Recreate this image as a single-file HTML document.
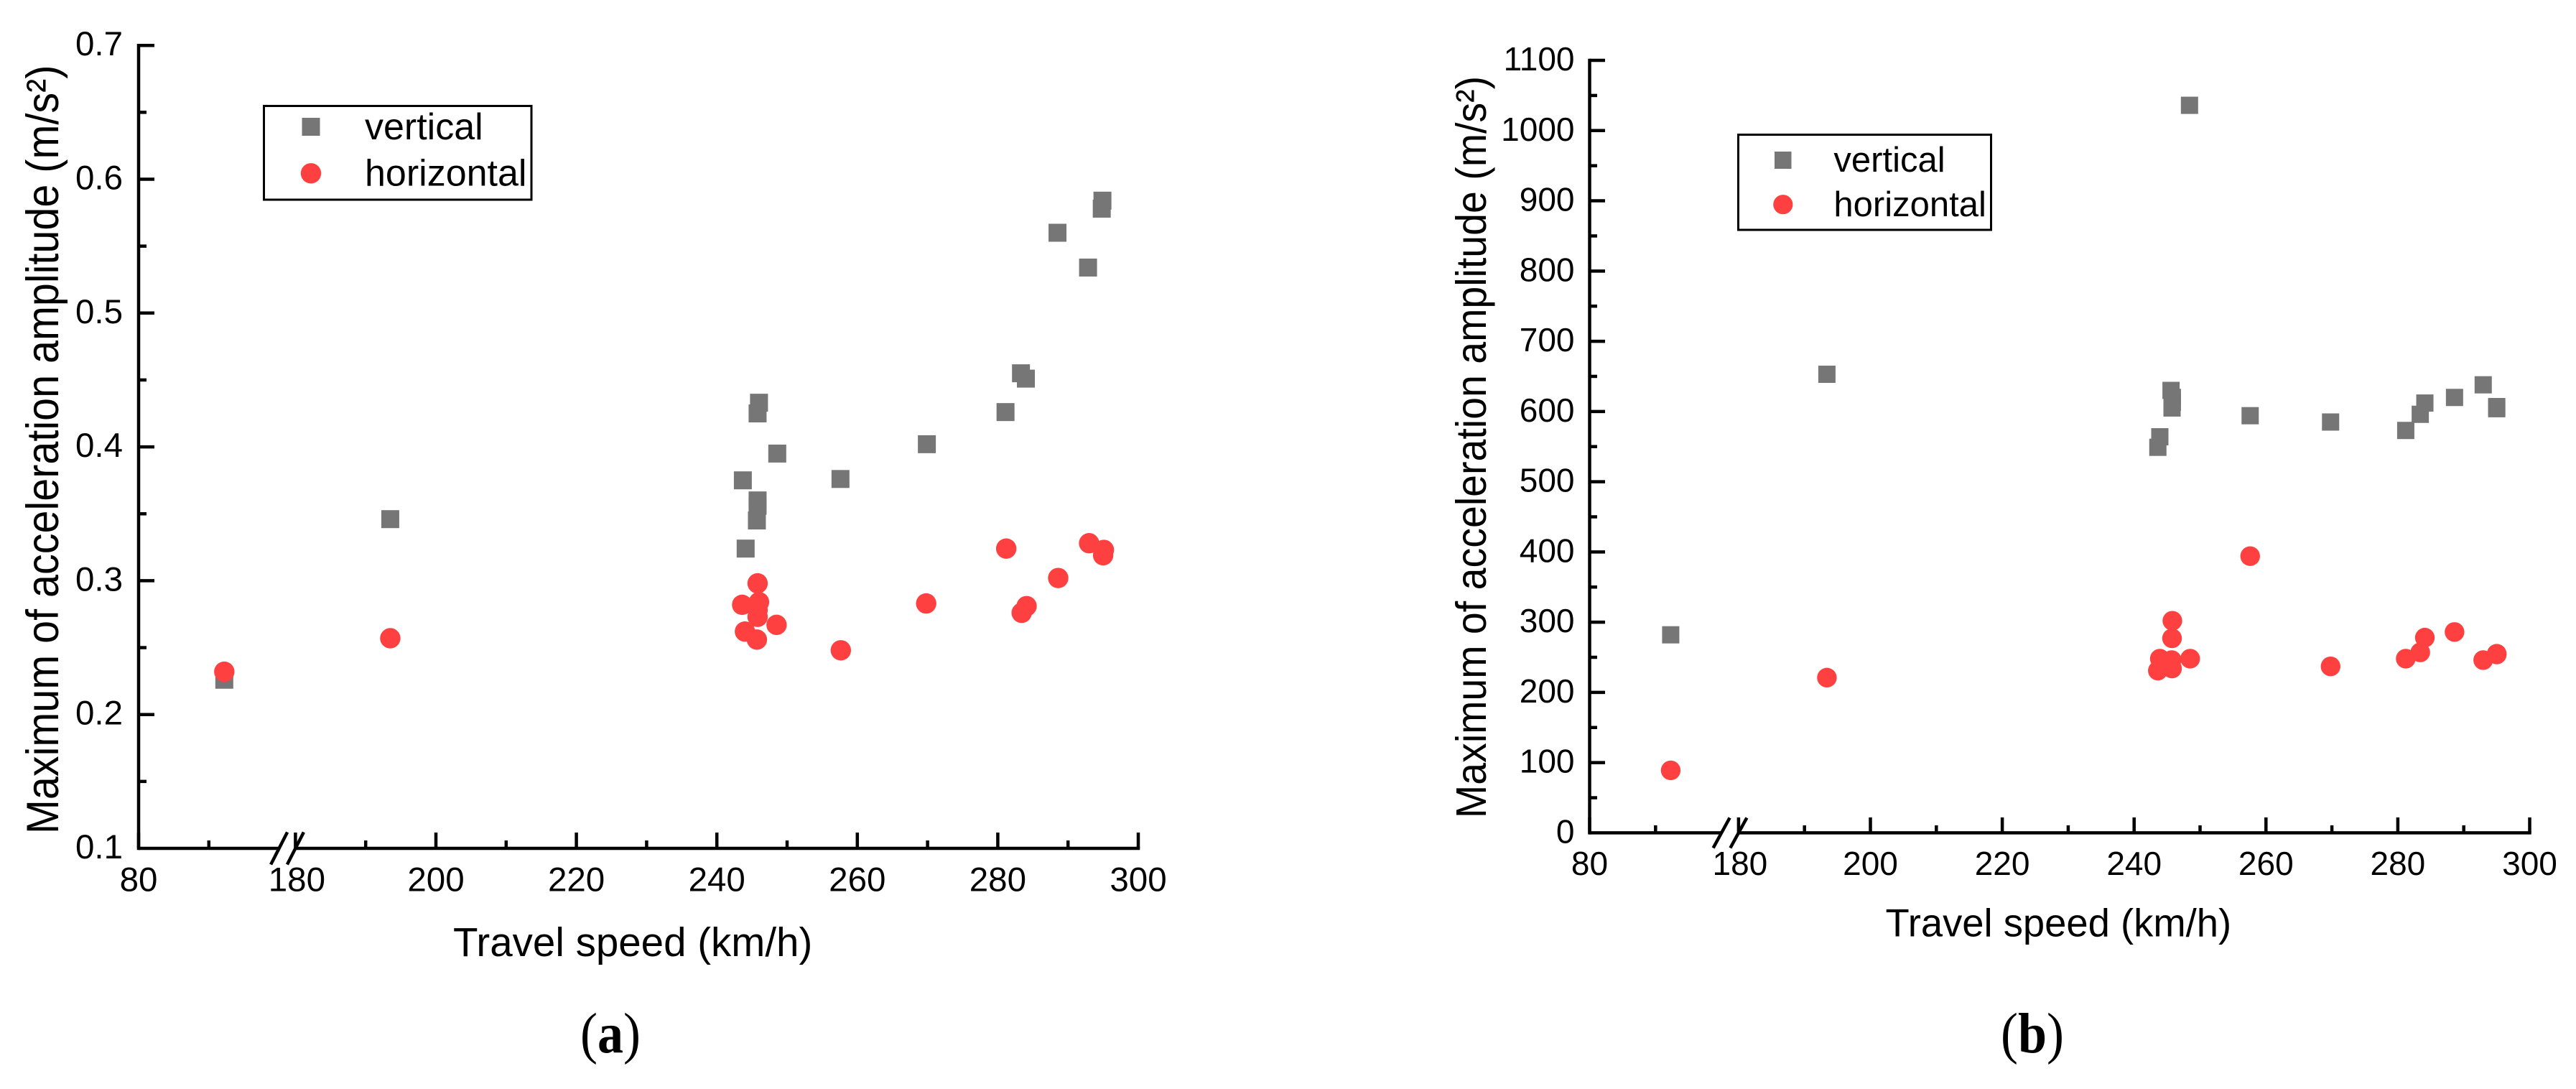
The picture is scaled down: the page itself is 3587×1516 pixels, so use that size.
<!DOCTYPE html>
<html lang="en">
<head>
<meta charset="utf-8">
<title>Maximum of acceleration amplitude versus travel speed</title>
<style>
  html, body { margin: 0; padding: 0; background: #fff; width: 3587px; height: 1516px; overflow: hidden; }
  svg { display: block; position: absolute; left: 0; top: 0; }
  text { font-family: "Liberation Sans", Arial, sans-serif; fill: #000; }
  .caption { font-family: "Liberation Serif", "Times New Roman", serif; }
</style>
</head>
<body>
<svg id="figure" xmlns="http://www.w3.org/2000/svg" width="3587" height="1516" viewBox="0 0 3587 1516">
  <rect x="0" y="0" width="3587" height="1516" fill="#ffffff"/>

  <g id="panel-a">
    <text transform="translate(81,1161) rotate(-90) scale(1,1.1)" font-size="57.5">Maximum of acceleration amplitude (m/s²)</text>
    <text x="631" y="1331" font-size="56.5">Travel speed (km/h)</text>
    <g>
      <rect x="367.5" y="147.5" width="372.5" height="130.5" fill="#fff" stroke="#000" stroke-width="3"/>
      <rect x="420.5" y="164" width="25" height="25" fill="#767676"/>
      <text x="508" y="194" font-size="52">vertical</text>
      <circle cx="433" cy="241.3" r="14.2" fill="#ff4040"/>
      <text x="508" y="258.7" font-size="52">horizontal</text>
    </g>
    <text class="caption" transform="translate(808,1465) scale(1,1.1)" font-size="72">(<tspan font-weight="bold">a</tspan>)</text>
  </g>

  <g id="panel-b">
    <text transform="translate(2069,1139) rotate(-90) scale(1,1.07)" font-size="55.5">Maximum of acceleration amplitude (m/s²)</text>
    <text x="2625.5" y="1303.6" font-size="54.4">Travel speed (km/h)</text>
    <g>
      <rect x="2420.5" y="187.5" width="352" height="132.5" fill="#fff" stroke="#000" stroke-width="3"/>
      <rect x="2471" y="211" width="23.5" height="24" fill="#767676"/>
      <text x="2553.4" y="238.8" font-size="49">vertical</text>
      <circle cx="2482.8" cy="284.7" r="13.6" fill="#ff4040"/>
      <text x="2553.4" y="301" font-size="49">horizontal</text>
    </g>
    <text class="caption" transform="translate(2786,1465) scale(1,1.1)" font-size="72">(<tspan font-weight="bold">b</tspan>)</text>
  </g>
</svg>

<script>
// Shared x axis values
const xMajorTicks = [80, 180, 200, 220, 240, 260, 280, 300];
const xMinorTicks = [90, 190, 210, 230, 250, 270, 290];
const xBreakStart = 100;
const xBreakEnd = 180;

// Panel (a) data
const yTicksA = [0.1, 0.2, 0.3, 0.4, 0.5, 0.6, 0.7];
const yMinorTicksA = [0.15, 0.25, 0.35, 0.45, 0.55, 0.65];
const yTickLabelsA = ['0.1', '0.2', '0.3', '0.4', '0.5', '0.6', '0.7'];
const verticalSpeedA = [92.2, 193.5, 243.7, 244.1, 245.7, 245.8, 245.8, 245.8, 246.0, 248.6, 257.6, 269.9, 281.1, 283.3, 284.0, 288.5, 292.85, 294.8, 294.9];
const verticalAmpA = [0.226, 0.346, 0.375, 0.324, 0.345, 0.356, 0.360, 0.425, 0.433, 0.395, 0.376, 0.402, 0.426, 0.455, 0.451, 0.560, 0.534, 0.578, 0.584];
const horizontalSpeedA = [92.2, 193.5, 243.6, 244.0, 245.7, 245.8, 245.8, 245.8, 246.0, 248.5, 257.65, 269.8, 281.2, 283.4, 284.1, 288.6, 293.0, 295.0, 295.1];
const horizontalAmpA = [0.232, 0.257, 0.282, 0.262, 0.256, 0.273, 0.278, 0.298, 0.284, 0.267, 0.248, 0.283, 0.324, 0.276, 0.281, 0.302, 0.328, 0.319, 0.323];

// Panel (b) data
const yTicksB = [0, 100, 200, 300, 400, 500, 600, 700, 800, 900, 1000, 1100];
const yMinorTicksB = [50, 150, 250, 350, 450, 550, 650, 750, 850, 950, 1050];
const yTickLabelsB = ['0', '100', '200', '300', '400', '500', '600', '700', '800', '900', '1000', '1100'];
const verticalSpeedB = [92.3, 193.4, 243.6, 243.9, 245.6, 245.75, 245.8, 245.8, 248.4, 257.6, 269.8, 281.2, 283.4, 284.1, 288.6, 292.95, 295.0, 295.0];
const verticalAmpB = [282, 653, 549, 564, 630, 605, 613, 620, 1036, 594, 585, 573, 596, 612, 620, 638, 604, 607];
const horizontalSpeedB = [92.3, 193.4, 243.6, 243.9, 245.7, 245.75, 245.75, 245.8, 248.5, 257.6, 269.8, 281.2, 283.4, 284.1, 288.6, 292.95, 295.0, 295.0];
const horizontalAmpB = [89, 221, 231, 248, 246, 234, 277, 302, 248, 394, 237, 248, 257, 278, 286, 246, 254, 255];

const SVG_NS = 'http://www.w3.org/2000/svg';

function makeEl(parent, tag) {
  const el = document.createElementNS(SVG_NS, tag);
  parent.appendChild(el);
  return el;
}

function drawLine(parent, x1, y1, x2, y2, width) {
  const el = makeEl(parent, 'line');
  el.setAttribute('x1', x1);
  el.setAttribute('y1', y1);
  el.setAttribute('x2', x2);
  el.setAttribute('y2', y2);
  el.setAttribute('stroke', '#000');
  el.setAttribute('stroke-width', width);
  return el;
}

function drawPanel(panelId, geo, yTicks, yMinor, yLabels, vSpeed, vAmp, hSpeed, hAmp) {
  const root = document.getElementById(panelId);
  const suffix = panelId.slice(-1);

  const xScale = function (v) {
    if (v <= xBreakStart) {
      return geo.x0 + (v - 80) * geo.xUnit;
    }
    return geo.x200 + (v - 200) * geo.xUnit;
  };
  const yScale = function (v) {
    return geo.yBottom - (v - geo.yMin) * geo.yUnit;
  };

  const axes = makeEl(root, 'g');
  
  

  const yTop = yScale(yTicks[yTicks.length - 1]);

  const yAxis = drawLine(axes, geo.x0, yTop - geo.tw / 2, geo.x0, geo.yBottom + geo.axisW / 2, geo.axisW);
  
  

  const xAxisLeft = drawLine(axes, geo.x0, geo.yBottom, xScale(xBreakStart), geo.yBottom, geo.axisW);
  
  

  const xAxisRight = drawLine(axes, xScale(xBreakEnd), geo.yBottom, xScale(300) + geo.tw / 2, geo.yBottom, geo.axisW);
  
  

  [xBreakStart, xBreakEnd].forEach(function (v) {
    const cx = xScale(v);
    const slash = drawLine(axes, cx - 11.5, geo.yBottom + geo.breakH, cx + 11.5, geo.yBottom - geo.breakH, 4.5);
    
    
  });

  xMajorTicks.forEach(function (v) {
    const x = xScale(v);
    const tick = drawLine(axes, x, geo.yBottom, x, geo.yBottom - geo.majorLen, geo.tw);
    
    
    const label = makeEl(axes, 'text');
    
    
    label.setAttribute('x', x + (v === 180 ? 2 : 0));
    label.setAttribute('y', geo.xLabelY);
    label.setAttribute('font-size', geo.tickFont);
    label.setAttribute('text-anchor', 'middle');
    label.textContent = String(v);
  });

  xMinorTicks.forEach(function (v) {
    const x = xScale(v);
    const tick = drawLine(axes, x, geo.yBottom, x, geo.yBottom - geo.minorLen, geo.tw);
    
    
  });

  yTicks.forEach(function (v, i) {
    const y = yScale(v);
    if (i > 0) {
      const tick = drawLine(axes, geo.x0, y, geo.x0 + geo.majorLen, y, geo.tw);
      
      
    }
    const label = makeEl(axes, 'text');
    
    
    label.setAttribute('x', geo.yLabelX);
    label.setAttribute('y', y + 14);
    label.setAttribute('font-size', geo.tickFont);
    label.setAttribute('text-anchor', 'end');
    label.textContent = yLabels[i];
  });

  yMinor.forEach(function (v) {
    const y = yScale(v);
    const tick = drawLine(axes, geo.x0, y, geo.x0 + geo.minorLen, y, geo.tw);
    
    
  });

  const verticalGroup = makeEl(root, 'g');
  
  
  vSpeed.forEach(function (s, i) {
    const pt = makeEl(verticalGroup, 'rect');
    
    
    pt.setAttribute('x', xScale(s) - geo.square / 2);
    pt.setAttribute('y', yScale(vAmp[i]) - geo.square / 2);
    pt.setAttribute('width', geo.square);
    pt.setAttribute('height', geo.square);
    pt.setAttribute('fill', '#767676');
  });

  const horizontalGroup = makeEl(root, 'g');
  
  
  hSpeed.forEach(function (s, i) {
    const pt = makeEl(horizontalGroup, 'circle');
    
    
    pt.setAttribute('cx', xScale(s));
    pt.setAttribute('cy', yScale(hAmp[i]));
    pt.setAttribute('r', geo.radius);
    pt.setAttribute('fill', '#ff4040');
  });
}

drawPanel('panel-a', {
  x0: 193, x200: 607, xUnit: 9.78,
  yBottom: 1181, yMin: 0.1, yUnit: 1863,
  axisW: 4.5, tw: 4.5, majorLen: 22, minorLen: 11, breakH: 22.5,
  xLabelY: 1240.6, yLabelX: 171, tickFont: 47.5,
  square: 25, radius: 14.2
}, yTicksA, yMinorTicksA, yTickLabelsA, verticalSpeedA, verticalAmpA, horizontalSpeedA, horizontalAmpA);

drawPanel('panel-b', {
  x0: 2213.5, x200: 2604.5, xUnit: 9.18,
  yBottom: 1159.4, yMin: 0, yUnit: 0.9776,
  axisW: 4.5, tw: 4.5, majorLen: 21.5, minorLen: 10.5, breakH: 21,
  xLabelY: 1217.8, yLabelX: 2192.5, tickFont: 46,
  square: 24, radius: 13.7
}, yTicksB, yMinorTicksB, yTickLabelsB, verticalSpeedB, verticalAmpB, horizontalSpeedB, horizontalAmpB);
</script>
</body>
</html>
